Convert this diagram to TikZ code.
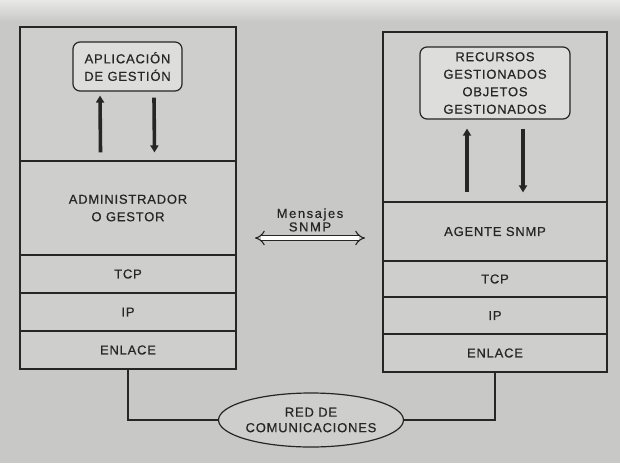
\documentclass[tikz,border=0pt]{standalone}
\usepackage{fontspec}
\setmainfont{Liberation Sans}[LetterSpace=6, FakeBold=0.5]
\usetikzlibrary{arrows.meta,shapes.geometric}
\definecolor{paper}{RGB}{200,200,198}
\definecolor{paperlight}{RGB}{232,232,230}
\definecolor{boxfill}{RGB}{206,206,204}
\definecolor{ink}{RGB}{38,38,38}

\begin{document}
\begin{tikzpicture}[
        x=1pt, y=-1pt,
        layer/.style={
            rectangle,
            draw=ink,
            line width=1.2pt,
            fill=boxfill,
            align=center,
            text=ink,
            font=\fontsize{13}{17.5}\selectfont,
            inner sep=0pt
        },
        appbox/.style={
            layer,
            rounded corners=7pt,
            fill=boxfill!70!white
        },
        flow/.style={-{Triangle[width=8pt,length=7pt]}, line width=3.6pt, draw=ink},
        link/.style={draw=ink, line width=1.2pt},
        snmp/.style={{Implies[scale=1.7]}-{Implies[scale=1.7]}, double=white, double distance=4pt, line width=1.1pt, draw=ink}
    ]

        \useasboundingbox (0,0) rectangle (620,463);
        \fill[paper] (0,0) rectangle (620,463);
        \shade[top color=paperlight, bottom color=paper] (0,0) rectangle (620,22);

        \node[layer, minimum width=216pt, minimum height=134pt] (topL) at (128,94) {};
        \node[layer, minimum width=216pt, minimum height=94pt] (adminL) at (128,208) {ADMINISTRADOR\\O GESTOR};
        \node[layer, minimum width=216pt, minimum height=38pt] (tcpL) at (128,274) {TCP};
        \node[layer, minimum width=216pt, minimum height=38pt] (ipL) at (128,312) {IP};
        \node[layer, minimum width=216pt, minimum height=38pt] (enlaceL) at (128,350) {ENLACE};
        \node[appbox, minimum width=109pt, minimum height=49pt] (appL) at (127.5,66.5) {APLICACIÓN\\DE GESTIÓN};

        \node[layer, minimum width=224pt, minimum height=170pt] (topR) at (495,117) {};
        \node[layer, minimum width=224pt, minimum height=59pt] (agentR) at (495,231.5) {AGENTE SNMP};
        \node[layer, minimum width=224pt, minimum height=36pt] (tcpR) at (495,279) {TCP};
        \node[layer, minimum width=224pt, minimum height=37pt] (ipR) at (495,315.5) {IP};
        \node[layer, minimum width=224pt, minimum height=38pt] (enlaceR) at (495,353) {ENLACE};
        \node[appbox, minimum width=150pt, minimum height=72pt] (appR) at (495,83) {RECURSOS\\GESTIONADOS\\OBJETOS\\GESTIONADOS};

        \node[align=center, text=ink, inner sep=0pt, font=\fontsize{13}{13.5}\selectfont\addfontfeatures{LetterSpace=12}] (msg) at (310,220) {Mensajes\\SNMP};
        \coordinate (msgL) at (255,238);
        \coordinate (msgR) at (365,238);

        \node[ellipse, draw=ink, line width=1.2pt, fill=boxfill, text=ink, align=center, inner sep=0pt,
              minimum width=168pt, minimum height=54pt, font=\fontsize{13}{15.5}\selectfont] (red) at (311,420) {RED DE\\COMUNICACIONES};

        \draw[flow] ([xshift=-27.5pt,yshift=8pt]adminL.north) -- ([xshift=-27.5pt,yshift=-4pt]appL.south);
        \draw[flow] ([xshift=26.5pt,yshift=-6pt]appL.south) -- ([xshift=26.5pt,yshift=8pt]adminL.north);
        \draw[flow] ([xshift=-28pt,yshift=9pt]agentR.north) -- ([xshift=-28pt,yshift=-9pt]appR.south);
        \draw[flow] ([xshift=28pt,yshift=-9pt]appR.south) -- ([xshift=28pt,yshift=9pt]agentR.north);

        \draw[snmp] (msgL) -- (msgR);

        \draw[link] (enlaceL.south) |- (red.west);
        \draw[link] (red.east) -| (enlaceR.south);

    \end{tikzpicture}
\end{document}
